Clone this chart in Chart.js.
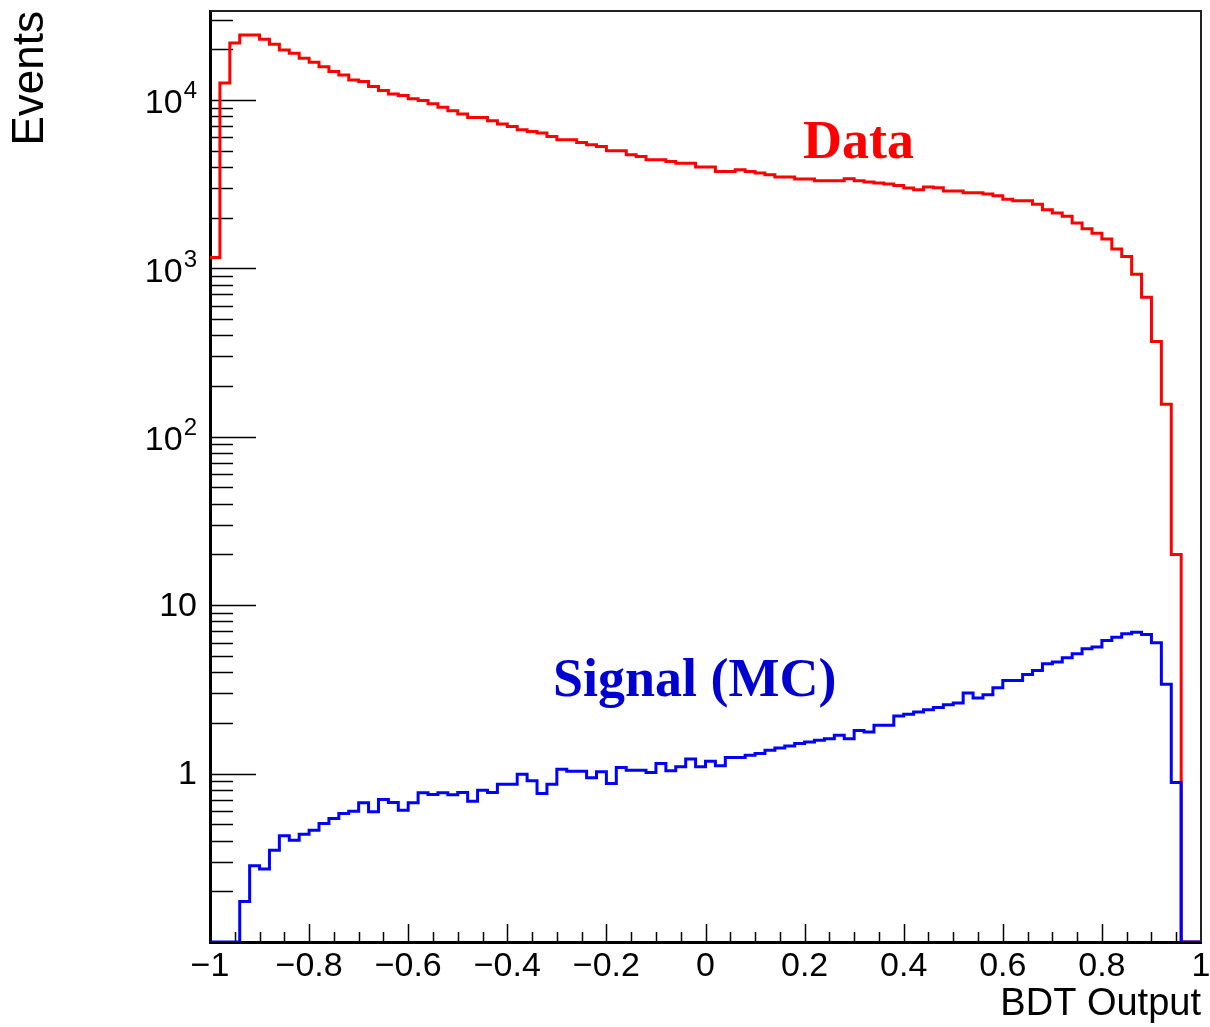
<!DOCTYPE html>
<html>
<head>
<meta charset="utf-8">
<script src="https://cdn.jsdelivr.net/npm/chart.js@4.4.1/dist/chart.umd.min.js"></script>
<style>
  html, body { margin: 0; padding: 0; background: #fff; }
  #bdt { display: block; }
</style>
</head>
<body>
<canvas id="bdt" width="1210" height="1027"></canvas>
<script>
// Histogram binning (100 bins from -1 to 1)
const xMin = -1, xMax = 1, nBins = 100;
const yMin = 0.1, yMax = 33700;

// Data (red) - events per bin
const dataCounts = [
  1158, 12610, 21770, 24290, 24290, 22890, 21390, 19790, 18910, 17670,
  16730, 15750, 14720, 14070, 13140, 12840, 11990, 11350, 10850, 10600,
  10140, 9906, 9469, 9029, 8606, 8229, 7855, 7855, 7508, 7178,
  6947, 6639, 6487, 6348, 6060, 5794, 5794, 5585, 5412, 5289,
  4987, 4987, 4722, 4613, 4410, 4410, 4309, 4204, 4204, 3992,
  3992, 3759, 3759, 3848, 3759, 3678, 3594, 3483, 3483, 3389,
  3389, 3311, 3311, 3311, 3403, 3311, 3253, 3209, 3166, 3105,
  2997, 2929, 3039, 3010, 2873, 2873, 2811, 2811, 2758, 2694,
  2573, 2514, 2514, 2403, 2229, 2131, 2034, 1857, 1716, 1616,
  1495, 1302, 1176, 922, 674, 368, 156, 20, 0, 0
];

// Signal MC (blue) - events per bin
const signalCounts = [
  0, 0, 0, 0.174, 0.284, 0.271, 0.351, 0.427, 0.402, 0.437,
  0.461, 0.505, 0.541, 0.579, 0.598, 0.670, 0.593, 0.701, 0.673, 0.606,
  0.670, 0.769, 0.751, 0.769, 0.748, 0.772, 0.685, 0.796, 0.772, 0.864,
  0.864, 0.991, 0.905, 0.761, 0.864, 1.061, 1.032, 1.032, 0.943, 1.024,
  0.873, 1.085, 1.046, 1.046, 1.014, 1.146, 1.038, 1.096, 1.219, 1.096,
  1.183, 1.111, 1.244, 1.244, 1.284, 1.314, 1.375, 1.420, 1.460, 1.506,
  1.541, 1.575, 1.612, 1.687, 1.612, 1.805, 1.767, 1.933, 1.933, 2.198,
  2.247, 2.321, 2.395, 2.471, 2.564, 2.624, 3.008, 2.809, 2.939, 3.233,
  3.572, 3.572, 3.877, 4.094, 4.486, 4.590, 4.869, 5.142, 5.505, 5.634,
  6.166, 6.458, 6.755, 6.913, 6.691, 5.975, 3.392, 0.885, 0, 0
];

// Axis ticks
const xTickValues = [-1, -0.8, -0.6, -0.4, -0.2, 0, 0.2, 0.4, 0.6, 0.8, 1];
const xTickLabels = ['\u22121', '\u22120.8', '\u22120.6', '\u22120.4', '\u22120.2', '0', '0.2', '0.4', '0.6', '0.8', '1'];
const yTickValues = [1, 10, 100, 1000, 10000];
const yTickLabels = ['1', '10', '10', '10', '10'];
const yTickPowers = ['', '', '2', '3', '4'];

// Text labels on the plot
const labels = [
  { text: 'Data', x: 0.197, y: 4500, color: '#ff0000' },
  { text: 'Signal (MC)', x: -0.308, y: 2.9, color: '#0000d0' }
];

const binWidth = (xMax - xMin) / nBins;

// points on the left bin edges, empty bins sit on the axis floor like ROOT does
function histPoints(counts) {
  const pts = counts.map((v, i) => ({ x: xMin + i * binWidth, y: v > 0 ? v : yMin }));
  pts.push({ x: xMax, y: pts[pts.length - 1].y });
  return pts;
}

const sansFont = "'Liberation Sans', Arial, Helvetica, sans-serif";

// ROOT style frame: inner ticks + top/right border + y labels with exponents
const rootFrame = {
  id: 'rootFrame',
  beforeDatasetsDraw(chart) {
    const { ctx, chartArea: a, scales } = chart;
    const x = scales.x, y = scales.y;
    ctx.save();
    ctx.strokeStyle = '#000';
    ctx.lineWidth = 1.5;
    // y ticks (decades + minors)
    for (let e = -1; e <= 4; e++) {
      for (let m = 1; m <= 9; m++) {
        const v = m * Math.pow(10, e);
        if (v <= yMin || v > yMax) continue;
        const py = Math.round(y.getPixelForValue(v)) + 0.5;
        const len = m === 1 ? 46 : 23;
        ctx.beginPath();
        ctx.moveTo(a.left, py);
        ctx.lineTo(a.left + len, py);
        ctx.stroke();
      }
    }
    // x ticks every 0.05, longer every 0.2
    for (let i = 1; i < 40; i++) {
      const px = Math.round(x.getPixelForValue(xMin + i * 0.05)) + 0.5;
      const len = i % 4 === 0 ? 18 : 10;
      ctx.beginPath();
      ctx.moveTo(px, a.bottom);
      ctx.lineTo(px, a.bottom - len);
      ctx.stroke();
    }
    // top and right border
    ctx.strokeStyle = '#222';
    ctx.lineWidth = 2;
    ctx.beginPath();
    ctx.moveTo(a.left, a.top);
    ctx.lineTo(a.right, a.top);
    ctx.lineTo(a.right, a.bottom);
    ctx.stroke();

    // y tick labels, "10" with a raised exponent
    ctx.fillStyle = '#000';
    ctx.textAlign = 'right';
    ctx.textBaseline = 'middle';
    yTickValues.forEach((v, i) => {
      const py = y.getPixelForValue(v);
      const right = a.left - 13;
      if (yTickPowers[i]) {
        ctx.font = '24px ' + sansFont;
        ctx.fillText(yTickPowers[i], right, py - 8);
        const w = ctx.measureText(yTickPowers[i]).width;
        ctx.font = '34px ' + sansFont;
        ctx.fillText(yTickLabels[i], right - w - 1, py + 4);
      } else {
        ctx.font = '34px ' + sansFont;
        ctx.fillText(yTickLabels[i], right, py + 1);
      }
    });
    ctx.restore();
  },
  afterDatasetsDraw(chart) {
    const { ctx, scales } = chart;
    ctx.save();
    ctx.font = "bold 54px 'Liberation Serif', 'Times New Roman', serif";
    ctx.textAlign = 'left';
    ctx.textBaseline = 'alphabetic';
    labels.forEach(l => {
      ctx.fillStyle = l.color;
      ctx.fillText(l.text, scales.x.getPixelForValue(l.x), scales.y.getPixelForValue(l.y));
    });
    ctx.restore();
  }
};

new Chart(document.getElementById('bdt'), {
  type: 'line',
  data: {
    datasets: [
      {
        label: 'Signal (MC)',
        data: histPoints(signalCounts),
        borderColor: '#0000ff',
        borderWidth: 3,
        pointRadius: 0,
        stepped: true,
        fill: false,
        order: 0
      },
      {
        label: 'Data',
        data: histPoints(dataCounts),
        borderColor: '#ff0000',
        borderWidth: 3,
        pointRadius: 0,
        stepped: true,
        fill: false,
        order: 1
      }
    ]
  },
  options: {
    responsive: false,
    animation: false,
    devicePixelRatio: 1,
    layout: { padding: { top: 11, right: 9, left: 0, bottom: 0 } },
    plugins: {
      legend: { display: false },
      tooltip: { enabled: false }
    },
    scales: {
      x: {
        type: 'linear',
        min: xMin,
        max: xMax,
        afterFit: s => { s.height = 85; s.paddingLeft = 0; s.paddingRight = 0; },
        afterBuildTicks: s => { s.ticks = xTickValues.map(v => ({ value: v })); },
        grid: { display: false },
        border: { display: true, color: '#000', width: 3 },
        ticks: {
          autoSkip: false,
          maxRotation: 0,
          padding: 0,
          color: '#000',
          font: { family: sansFont, size: 34, lineHeight: 1 },
          callback: (v, i) => xTickLabels[i]
        },
        title: {
          display: true,
          text: 'BDT Output',
          align: 'end',
          color: '#000',
          padding: { top: 0, bottom: 0 },
          font: { family: sansFont, size: 38 }
        }
      },
      y: {
        type: 'logarithmic',
        min: yMin,
        max: yMax,
        afterFit: s => { s.width = 210; s.paddingTop = 0; s.paddingBottom = 0; },
        afterBuildTicks: s => { s.ticks = yTickValues.map(v => ({ value: v })); },
        grid: { display: false },
        border: { display: true, color: '#000', width: 3 },
        ticks: { display: false },
        title: {
          display: true,
          text: 'Events',
          align: 'end',
          color: '#000',
          padding: { top: 4, bottom: 0 },
          font: { family: sansFont, size: 44 }
        }
      }
    }
  },
  plugins: [rootFrame]
});
</script>
</body>
</html>
